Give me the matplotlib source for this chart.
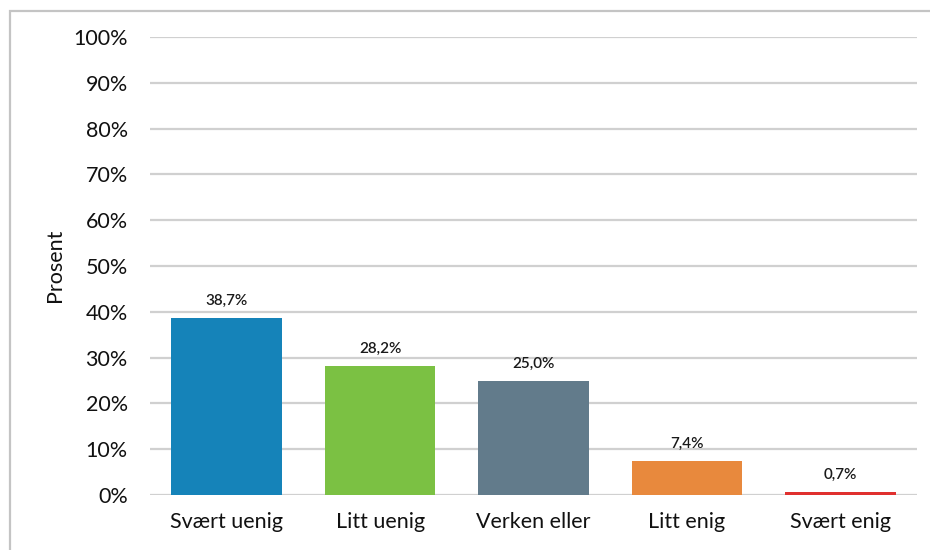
import matplotlib.pyplot as plt
from matplotlib.patches import Rectangle
from matplotlib.ticker import FuncFormatter

categories = ['Svært uenig', 'Litt uenig', 'Verken eller', 'Litt enig', 'Svært enig']
values = [38.7, 28.2, 25.0, 7.4, 0.7]
colors = ['#1583b9', '#7bc143', '#627b8b', '#e8893d', '#e0302f']

plt.rcParams['font.family'] = ['Lato', 'DejaVu Sans']

fig = plt.figure(figsize=(9.3, 5.5), dpi=100)
ax = fig.add_axes([150 / 930, 1 - 495 / 550, (917 - 150) / 930, (495 - 37) / 550])

# outer frame like the source picture
fig.patches.append(Rectangle((10 / 930, -0.01), 1.0, 1 - 11 / 550 + 0.01,
                             transform=fig.transFigure, fill=False,
                             edgecolor='#c4c4c4', linewidth=1.6))

x = range(len(categories))
bars = ax.bar(x, values, width=0.72, color=colors, zorder=3)

for b, v in zip(bars, values):
    ax.text(b.get_x() + b.get_width() / 2, v + 2.2, f'{v:.1f}%'.replace('.', ','),
            ha='center', va='bottom', fontsize=11, fontweight='semibold', color='#1a1a1a')

ax.set_xlim(-0.5, len(categories) - 0.5)
ax.set_ylim(0, 100)
ax.set_yticks(range(0, 101, 10))
ax.yaxis.set_major_formatter(FuncFormatter(lambda v, p: f'{v:.0f}%'))
ax.set_xticks(list(x))
ax.set_xticklabels(categories)
ax.tick_params(axis='both', length=0, labelsize=15.5, colors='#111111')
ax.tick_params(axis='y', pad=16)
ax.tick_params(axis='x', pad=12)

ax.grid(axis='y', color='#d0d0d0', linewidth=1.6, zorder=0)
for s in ax.spines.values():
    s.set_visible(False)

fig.text(55 / 930, 1 - 265 / 550, 'Prosent', rotation=90, ha='center', va='center',
         fontsize=15.5, color='#111111')

fig.savefig('out.png', dpi=100)
